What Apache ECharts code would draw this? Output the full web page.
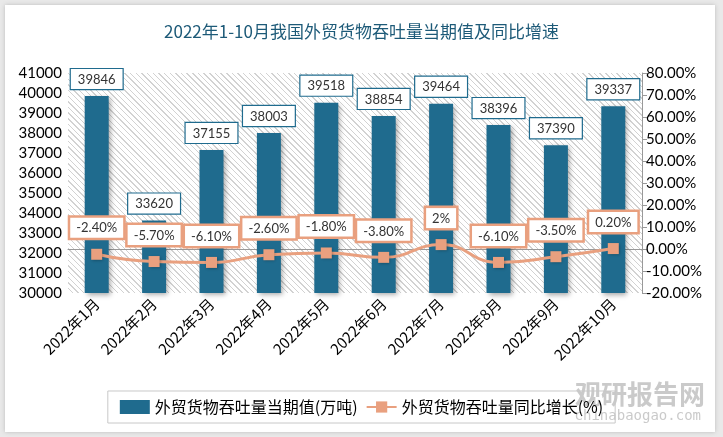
<!DOCTYPE html>
<html><head><meta charset="utf-8">
<script src="https://cdn.jsdelivr.net/npm/echarts@6/dist/echarts.min.js"></script>
<style>html,body{margin:0;padding:0;background:#e9e9e9;}#wrap{position:absolute;left:5px;top:5px;width:710px;height:427px;background:#fff;box-shadow:0 0 4px #bbb;}
#hatch{position:absolute;left:63px;top:68px;width:574px;height:220px;background:repeating-linear-gradient(45deg,#ffffff 0px,#ffffff 3px,#d2d2d2 3px,#d2d2d2 4px);}
#c{position:absolute;left:-5px;top:-5px;width:723px;height:437px;}</style>
</head><body><div id="wrap"><div id="hatch"></div><div id="c"></div></div>
<script>
var categories = ['2022年1月','2022年2月','2022年3月','2022年4月','2022年5月','2022年6月','2022年7月','2022年8月','2022年9月','2022年10月'];
var throughput = [39846, 33620, 37155, 38003, 39518, 38854, 39464, 38396, 37390, 39337];
var growth = [-2.4, -5.7, -6.1, -2.6, -1.8, -3.8, 2, -6.1, -3.5, 0.2];
var growthLabels = ['-2.40%','-5.70%','-6.10%','-2.60%','-1.80%','-3.80%','2%','-6.10%','-3.50%','0.20%'];

var chart = echarts.init(document.getElementById('c'));
var axisFont = {fontFamily:'Lato, "Noto Sans CJK SC"', fontSize:15, color:'#000'};
chart.setOption({
  backgroundColor: 'transparent',
  animation: false,
  title: {text:'2022年1-10月我国外贸货物吞吐量当期值及同比增速', left:'center', top:18,
    textStyle:{fontFamily:'"Noto Sans CJK SC"', fontSize:17, fontWeight:'normal', color:'#1d5a78'}},
  grid: {left:68, right:81, top:73, bottom:144, show:false},
  legend: {bottom:14, left:'center', itemGap:8, padding:[8,12,8,12], borderColor:'#c8c8c8', borderWidth:1,
    textStyle:{fontFamily:'"Noto Sans CJK SC"', fontSize:16, color:'#000'},
    data:[{name:'外贸货物吞吐量当期值(万吨)', icon:'rect', itemStyle:{color:'#1f6b8e'}}, {name:'外贸货物吞吐量同比增长(%)'}],
    itemWidth:30, itemHeight:14},
  xAxis: {type:'category', data:categories, axisTick:{show:false},
    axisLine:{lineStyle:{color:'#999'}},
    axisLabel:{rotate:45, interval:0, fontFamily:'"Noto Sans CJK SC"', fontSize:15, color:'#000', margin:8}},
  yAxis: [
    {type:'value', min:30000, max:41000, interval:1000, splitLine:{show:false}, axisLine:{show:false}, axisTick:{show:false},
      axisLabel:Object.assign({margin:6, formatter:function(v){return String(v);}}, axisFont)},
    {type:'value', min:-20, max:80, interval:10, splitLine:{show:false}, alignTicks:false,
      axisLine:{show:true, lineStyle:{color:'#999'}}, axisTick:{show:true, inside:false, length:5, lineStyle:{color:'#999'}},
      axisLabel:Object.assign({margin:4, formatter:function(v){return v.toFixed(2)+'%';}}, axisFont)}
  ],
  series: [
    {name:'外贸货物吞吐量当期值(万吨)', type:'bar', data:throughput, barWidth:24,
      itemStyle:{color:'#1f6b8e', shadowColor:'rgba(0,0,0,0.35)', shadowBlur:5, shadowOffsetX:2, shadowOffsetY:2},
      label:{show:true, position:'top', distance:7, backgroundColor:'#fff', borderColor:'#1f6b8e', borderWidth:1.2,
        padding:[4,7,3,7], fontFamily:'Lato, "Noto Sans"', fontSize:13, color:'#333'}},
    {name:'外贸货物吞吐量同比增长(%)', type:'line', yAxisIndex:1, data:growth, smooth:true,
      symbol:'rect', symbolSize:11, lineStyle:{color:'#e9a07f', width:3},
      itemStyle:{color:'#e9a07f', shadowColor:'rgba(0,0,0,0.3)', shadowBlur:3, shadowOffsetX:1, shadowOffsetY:1},
      label:{show:true, position:'top', distance:11, backgroundColor:'#fff', borderColor:'#e9a07f', borderWidth:2.5,
        padding:[4,6,3,6], fontFamily:'Lato, "Noto Sans"', fontSize:13, color:'#333',
        formatter:function(p){return growthLabels[p.dataIndex];}}}
  ],
  graphic: [
    {type:'text', right:18, bottom:30, style:{text:'观研报告网', font:'bold 26px "Noto Sans CJK SC"', fill:'rgba(150,150,150,0.5)'}},
    {type:'text', right:22, bottom:14, style:{text:'chinabaogao.com', font:'14px "DejaVu Sans Mono"', fill:'rgba(150,150,150,0.5)'}}
  ]
});
</script></body></html>
